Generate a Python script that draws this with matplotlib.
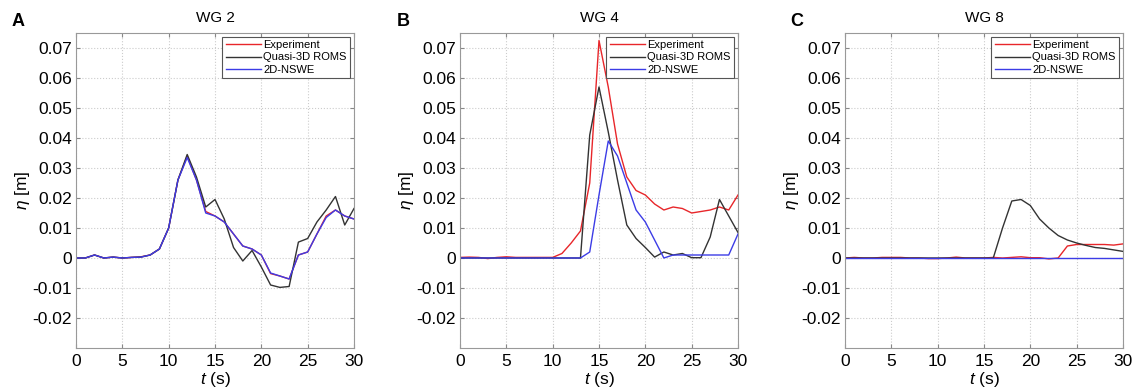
import numpy as np
import matplotlib.pyplot as plt

plt.rcParams['font.family'] = ['Liberation Sans', 'DejaVu Sans']
plt.rcParams['mathtext.fontset'] = 'custom'
plt.rcParams['mathtext.rm'] = 'Liberation Sans'
plt.rcParams['mathtext.it'] = 'Liberation Sans:italic'

t = np.arange(0, 31)

# WG 2
wg2_exp = [0, 0, 0.001, 0, 0.0003, 0, 0.0002, 0.0004, 0.001, 0.003, 0.010, 0.026, 0.034,
           0.026, 0.0155, 0.014, 0.012, 0.008, 0.004, 0.003, 0.001, -0.0052, -0.006, -0.007,
           0.001, 0.002, 0.008, 0.014, 0.016, 0.014, 0.013]
wg2_roms = [0, 0, 0.001, 0, 0.0003, 0, 0.0002, 0.0003, 0.001, 0.003, 0.010, 0.026, 0.0345,
            0.027, 0.017, 0.0195, 0.013, 0.0035, -0.001, 0.0025, -0.003, -0.009, -0.0098, -0.0095,
            0.0053, 0.0065, 0.012, 0.016, 0.0205, 0.011, 0.0165]
wg2_nswe = [0, 0, 0.001, 0, 0.0003, 0, 0.0002, 0.0003, 0.001, 0.003, 0.010, 0.026, 0.0335,
            0.026, 0.015, 0.014, 0.012, 0.008, 0.004, 0.003, 0.001, -0.005, -0.006, -0.007,
            0.001, 0.002, 0.008, 0.0135, 0.016, 0.014, 0.013]

# WG 4
wg4_exp = [0.0002, 0.0003, 0.0002, -0.0002, 0.0002, 0.0004, 0.0002, 0.0002, 0.0002, 0.0002, 0.0002,
           0.0015, 0.005, 0.009, 0.025, 0.0725, 0.057, 0.038, 0.027, 0.0225, 0.021, 0.018, 0.016,
           0.017, 0.0165, 0.015, 0.0155, 0.016, 0.017, 0.016, 0.021]
wg4_roms = [0, 0, 0, 0, 0, 0, 0, 0, 0, 0, 0, 0, 0, 0, 0.041, 0.057, 0.042, 0.026, 0.011, 0.0065,
            0.0035, 0.0003, 0.002, 0.001, 0.0015, 0.0001, 0.0001, 0.007, 0.0195, 0.014, 0.0085]
wg4_nswe = [0, 0, 0, 0, 0, 0, 0, 0, 0, 0, 0, 0, 0, 0, 0.002, 0.021, 0.039, 0.034, 0.025, 0.016,
            0.012, 0.006, 0, 0.001, 0.001, 0.001, 0.001, 0.001, 0.001, 0.001, 0.008]

# WG 8
wg8_exp = [0, 0.0002, 0, 0, 0.0002, 0.0002, 0.0002, 0, 0, -0.0002, -0.0002, 0, 0.0003, 0, 0, 0,
           0.0002, 0, 0.0002, 0.0004, 0.0001, 0.0001, -0.0003, 0, 0.004, 0.0045, 0.0045, 0.0045,
           0.0045, 0.0043, 0.0047]
wg8_roms = [0, 0, 0, 0, 0, 0, 0, 0, 0, 0, 0, 0, 0, 0, 0, 0, 0, 0.010, 0.019, 0.0195, 0.0175,
            0.013, 0.010, 0.0075, 0.006, 0.005, 0.0042, 0.0035, 0.0032, 0.0027, 0.0022]
wg8_nswe = [0] * 31

panels = [("A", "WG 2", wg2_exp, wg2_roms, wg2_nswe),
          ("B", "WG 4", wg4_exp, wg4_roms, wg4_nswe),
          ("C", "WG 8", wg8_exp, wg8_roms, wg8_nswe)]

fig = plt.figure(figsize=(11.35, 3.89), dpi=100)
W, H = 1135, 389
lefts = [76, 460, 845]
letter_x = [12, 397, 790]

for (letter, title, exp, roms, nswe), lx, tx in zip(panels, lefts, letter_x):
    ax = fig.add_axes([lx / W, (H - 348) / H, 278 / W, 315 / H])
    ax.plot(t, exp, color="#e8262a", lw=1.0, label="Experiment")
    ax.plot(t, roms, color="#333333", lw=1.0, label="Quasi-3D ROMS")
    ax.plot(t, nswe, color="#3c3ce6", lw=1.0, label="2D-NSWE")
    ax.set_xlim(0, 30)
    ax.set_ylim(-0.03, 0.075)
    ax.set_xticks([0, 5, 10, 15, 20, 25, 30])
    ax.set_yticks([-0.02, -0.01, 0, 0.01, 0.02, 0.03, 0.04, 0.05, 0.06, 0.07])
    ax.set_yticklabels(["-0.02", "-0.01", "0", "0.01", "0.02", "0.03", "0.04", "0.05", "0.06", "0.07"])
    ax.grid(True, color="#cccccc", linestyle=":", linewidth=0.8)
    ax.tick_params(labelsize=12.5, length=3, direction="in", color="#888888",
                   top=True, right=True)
    ax.tick_params(axis="y", pad=3)
    ax.tick_params(axis="x", pad=4)
    for s in ax.spines.values():
        s.set_color("#999999")
    ax.set_xlabel("$t$ (s)", fontsize=12.5)
    ax.xaxis.set_label_coords(0.5, -0.07)
    ax.set_ylabel("$\\eta$ [m]", fontsize=12.5)
    ax.yaxis.set_label_coords(-0.158, 0.5)
    ax.set_title(title, fontsize=11, pad=8)
    leg = ax.legend(loc="upper right", fontsize=8, handlelength=3.2, borderpad=0.3,
                    labelspacing=0.2, handletextpad=0.2, fancybox=False, framealpha=1,
                    borderaxespad=0.35)
    leg.get_frame().set_edgecolor("#555555")
    leg.get_frame().set_linewidth(0.8)
    fig.text(tx / W, (H - 22) / H, letter, fontsize=13, fontweight="bold",
             va="center", ha="left")

fig.savefig("out.png", dpi=100)
